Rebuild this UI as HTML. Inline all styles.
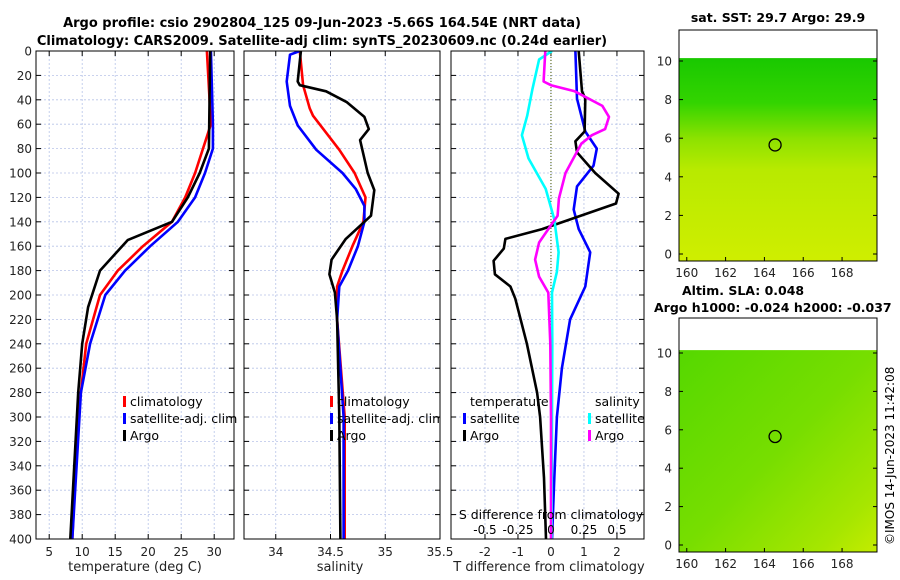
<!DOCTYPE html>
<html><head><meta charset="utf-8">
<style>
html,body{margin:0;padding:0;background:#fff;}
svg{display:block;font-family:"DejaVu Sans","Liberation Sans",sans-serif;}
</style></head>
<body>
<svg id="fig" width="900" height="580" viewBox="0 0 900 580" xmlns="http://www.w3.org/2000/svg">
<defs>
<clipPath id="c1"><rect x="36" y="51" width="198" height="488"/></clipPath>
<clipPath id="c2"><rect x="244" y="51" width="196" height="488"/></clipPath>
<clipPath id="c3"><rect x="451" y="51" width="193" height="488"/></clipPath>
<linearGradient id="sstg" x1="0" y1="0" x2="0" y2="1">
<stop offset="0" stop-color="#19c800"/><stop offset="0.22" stop-color="#33d400"/><stop offset="0.4" stop-color="#8ee200"/><stop offset="0.55" stop-color="#b8ea00"/><stop offset="1" stop-color="#cfee00"/></linearGradient>
<linearGradient id="slag" x1="0" y1="0" x2="1" y2="1">
<stop offset="0" stop-color="#55d800"/><stop offset="0.5" stop-color="#77de00"/><stop offset="0.85" stop-color="#a6e600"/><stop offset="1" stop-color="#c4ec00"/></linearGradient>
</defs>
<text x="322" y="27" text-anchor="middle" font-size="13" font-weight="bold">Argo profile: csio 2902804_125 09-Jun-2023 -5.66S 164.54E (NRT data)</text>
<text x="322" y="45" text-anchor="middle" font-size="13" font-weight="bold">Climatology: CARS2009. Satellite-adj clim: synTS_20230609.nc (0.24d earlier)</text>
<g id="p1"></g>
<g id="p2"></g>
<g id="p3"></g>
<g id="m1"></g>
<g id="m2"></g>
<text transform="translate(894,545) rotate(-90)" font-size="12">©IMOS 14-Jun-2023 11:42:08</text>
</svg>
<script>
// ---- data ----
const depthTicks=[0,20,40,60,80,100,120,140,160,180,200,220,240,260,280,300,320,340,360,380,400];
const tTicks=[5,10,15,20,25,30];
const sTicks=[34,34.5,35,35.5];
const dTTicks=[-2,-1,0,1,2];
const dSTickLabels=["-0.5","-0.25","0","0.25","0.5"];
const dSTicks=[-0.5,-0.25,0,0.25,0.5];
const tClimDepth=[0,60,100,120,140,160,180,200,240,300,400];
const tClimVal=[28.9,29.5,27.1,25.6,23.6,19.2,15.4,12.7,10.6,9.4,8.5];
const tSatDepth=[0,60,80,100,120,140,160,180,200,240,280,400];
const tSatVal=[29.5,29.8,29.8,28.6,27.1,24.5,20.3,16.5,13.5,11.2,9.8,8.5];
const tArgoDepth=[0,80,100,120,140,155,180,210,240,280,400];
const tArgoVal=[29.4,29.2,27.8,26.0,23.6,16.9,12.7,10.9,10.0,9.4,8.2];
const sClimDepth=[0,28,47,53,81,100,120,140,160,180,193,220,300,400];
const sClimVal=[34.22,34.25,34.31,34.34,34.58,34.72,34.82,34.8,34.7,34.61,34.56,34.56,34.63,34.63];
const sSatDepth=[0,3,25,45,61,81,100,113,127,140,160,180,193,220,300,400];
const sSatVal=[34.22,34.13,34.1,34.13,34.2,34.37,34.61,34.73,34.81,34.81,34.75,34.66,34.58,34.56,34.62,34.62];
const sArgoDepth=[0,25,28,33,42,54,64,73,100,114,135,140,154,171,183,198,220,300,400];
const sArgoVal=[34.23,34.2,34.22,34.46,34.65,34.81,34.85,34.77,34.84,34.9,34.87,34.81,34.64,34.51,34.49,34.54,34.56,34.58,34.59];
const dTSatDepth=[0,39,66,80,94,111,130,146,165,193,220,260,300,350,400];
const dTSatVal=[0.74,0.79,1.04,1.39,1.29,0.79,0.69,0.84,1.19,1.04,0.58,0.33,0.18,0.1,0.03];
const dTArgoDepth=[0,33,39,66,74,83,100,117,125,146,154,162,172,183,193,203,240,280,300,350,400];
const dTArgoVal=[0.84,0.94,1.04,1.02,0.74,0.79,1.34,2.05,1.97,-0.27,-1.38,-1.43,-1.74,-1.7,-1.23,-1.08,-0.73,-0.42,-0.33,-0.21,-0.15];
const dSSatDepth=[0,7,31,53,69,88,113,138,165,181,198,240,300,400];
const dSSatVal=[0.008,-0.09,-0.14,-0.18,-0.22,-0.17,-0.04,0.025,0.058,0.045,0.008,0.01,0.008,0.005];
const dSArgoDepth=[0,25,28,33,45,54,64,69,76,100,121,135,146,157,171,185,198,240,300,400];
const dSArgoVal=[-0.043,-0.056,0,0.18,0.39,0.44,0.41,0.31,0.23,0.11,0.06,0.05,-0.02,-0.09,-0.12,-0.09,-0.02,-0.005,0,0];
const mapXTicks=[160,162,164,166,168];
const mapYTicks=[0,2,4,6,8,10];
const argoLon=[164.55];
const argoLat=[5.65];
// ---- helpers ----
const NS="http://www.w3.org/2000/svg";
function mk(parent,tag,attrs,text){const e=document.createElementNS(NS,tag);for(const k in attrs)e.setAttribute(k,attrs[k]);if(text!==undefined)e.textContent=text;parent.appendChild(e);return e;}
const Y=d=>51+d*1.22;
function panel(g,x0,x1,xmin,xmax,xt,xtl,clip,showY){
  const X=v=>x0+(v-xmin)/(xmax-xmin)*(x1-x0);
  for(const d of depthTicks){const l=mk(g,'line',{x1:x0,x2:x1,y1:Y(d),y2:Y(d),stroke:'#b8c4e8','stroke-width':0.8,'stroke-dasharray':'2,2'});
    
    
    mk(g,'line',{x1:x0,x2:x0+5,y1:Y(d),y2:Y(d),stroke:'#000'});mk(g,'line',{x1:x1-5,x2:x1,y1:Y(d),y2:Y(d),stroke:'#000'});
    if(showY){const t=mk(g,'text',{x:x0-4,y:Y(d)+4.5,'text-anchor':'end','font-size':12,fill:'#222'},String(d));
      
      }}
  xt.forEach((v,i)=>{const l=mk(g,'line',{x1:X(v),x2:X(v),y1:51,y2:539,stroke:'#b8c4e8','stroke-width':0.8,'stroke-dasharray':'2,2'});
    
    
    mk(g,'line',{x1:X(v),x2:X(v),y1:539,y2:534,stroke:'#000'});mk(g,'line',{x1:X(v),x2:X(v),y1:51,y2:56,stroke:'#000'});
    if(xtl){const t=mk(g,'text',{x:X(v),y:556,'text-anchor':'middle','font-size':12,fill:'#222'},xtl[i]);
      
      }});
  return X;
}
function series(g,X,ds,vs,color,clip,name){
  const pts=ds.map((d,i)=>X(vs[i]).toFixed(1)+','+Y(d).toFixed(1)).join(' ');
  const p=mk(g,'polyline',{points:pts,fill:'none',stroke:color,'stroke-width':2.6,'stroke-linejoin':'round','clip-path':'url(#'+clip+')'});
  
  
}
function frame(g,x0,x1){const r=mk(g,'rect',{x:x0,y:51,width:x1-x0,height:488,fill:'none',stroke:'#000','stroke-width':1});
  
  }
function legendItem(g,x,y,color,label){
  mk(g,'rect',{x:x,y:y-10,width:3,height:11,fill:color});
  const t=mk(g,'text',{x:x+7,y:y,'font-size':12.5,fill:'#000'},label);
  
  
}
// ---- panel 1 ----
const g1=document.getElementById('p1');
const X1=panel(g1,36,234,3,33,tTicks,tTicks.map(String),'c1',true);
series(g1,X1,tClimDepth,tClimVal,'#ff0000','c1','temp-climatology-line');
series(g1,X1,tSatDepth,tSatVal,'#0000ff','c1','temp-satellite-line');
series(g1,X1,tArgoDepth,tArgoVal,'#000','c1','temp-argo-line');
frame(g1,36,234);
legendItem(g1,123,406,'#ff0000','climatology');legendItem(g1,123,423,'#0000ff','satellite-adj. clim');legendItem(g1,123,440,'#000','Argo');
mk(g1,'text',{x:135,y:571,'text-anchor':'middle','font-size':13,fill:'#222'},'temperature (deg C)');
// ---- panel 2 ----
const g2=document.getElementById('p2');
const X2=panel(g2,244,440,33.71,35.5,sTicks,sTicks.map(String),'c2',false);
series(g2,X2,sClimDepth,sClimVal,'#ff0000','c2','sal-climatology-line');
series(g2,X2,sSatDepth,sSatVal,'#0000ff','c2','sal-satellite-line');
series(g2,X2,sArgoDepth,sArgoVal,'#000','c2','sal-argo-line');
frame(g2,244,440);
const lg2=mk(g2,'g',{'clip-path':'url(#c2)'});
legendItem(lg2,330,406,'#ff0000','climatology');legendItem(lg2,330,423,'#0000ff','satellite-adj. clim');legendItem(lg2,330,440,'#000','Argo');
mk(g2,'text',{x:340,y:571,'text-anchor':'middle','font-size':13,fill:'#222'},'salinity');
// ---- panel 3 ----
const g3=document.getElementById('p3');
const X3=panel(g3,451,644,-3.03,2.82,dTTicks,dTTicks.map(String),'c3',false);
mk(g3,'line',{x1:X3(0),x2:X3(0),y1:51,y2:539,stroke:'#445500','stroke-width':1,'stroke-dasharray':'1,2'});
const XS=v=>X3(v*4);
series(g3,X3,dTSatDepth,dTSatVal,'#0000ff','c3','dT-satellite-line');
series(g3,X3,dTArgoDepth,dTArgoVal,'#000','c3','dT-argo-line');
series(g3,XS,dSSatDepth,dSSatVal,'#00ffff','c3','dS-satellite-line');
series(g3,XS,dSArgoDepth,dSArgoVal,'#ff00ff','c3','dS-argo-line');
frame(g3,451,644);
mk(g3,'text',{x:470,y:406,'font-size':12.5},'temperature');
mk(g3,'text',{x:595,y:406,'font-size':12.5},'salinity');
legendItem(g3,463,423,'#0000ff','satellite');legendItem(g3,463,440,'#000','Argo');
legendItem(g3,588,423,'#00ffff','satellite');legendItem(g3,588,440,'#ff00ff','Argo');
mk(g3,'text',{x:551,y:519,'text-anchor':'middle','font-size':12.5},'S difference from climatology');
dSTicks.forEach((v,i)=>{const t=mk(g3,'text',{x:XS(v),y:534,'text-anchor':'middle','font-size':12},dSTickLabels[i]);
  
  });
mk(g3,'text',{x:549,y:571,'text-anchor':'middle','font-size':13,fill:'#222'},'T difference from climatology');
// ---- maps ----
function map(g,top,bot,y0px,y10px,dataTop,fill){
  const MX=v=>679+(v-159.6)/(169.8-159.6)*(877-679);
  const MY=v=>y0px+(v-0)/(10-0)*(y10px-y0px);
  mk(g,'rect',{x:679,y:MY(10.15),width:198,height:bot-MY(10.15),fill:'url(#'+fill+')'});
  const f=mk(g,'rect',{x:679,y:top,width:198,height:bot-top,fill:'none',stroke:'#000'});
  
  
  mapXTicks.forEach(v=>{mk(g,'line',{x1:MX(v),x2:MX(v),y1:bot,y2:bot-4,stroke:'#000'});
    const t=mk(g,'text',{x:MX(v),y:bot+16,'text-anchor':'middle','font-size':12,fill:'#222'},String(v));
    
    });
  mapYTicks.forEach(v=>{mk(g,'line',{x1:679,x2:683,y1:MY(v),y2:MY(v),stroke:'#000'});mk(g,'line',{x1:873,x2:877,y1:MY(v),y2:MY(v),stroke:'#000'});
    const t=mk(g,'text',{x:672,y:MY(v)+4.5,'text-anchor':'end','font-size':12,fill:'#222'},String(v));
    
    });
  const c=mk(g,'circle',{cx:MX(argoLon[0]),cy:MY(argoLat[0]),r:6,fill:'none',stroke:'#000','stroke-width':1.3});
  
  
}
const m1=document.getElementById('m1');
map(m1,30,261,254,61,59,'sstg');
mk(m1,'text',{x:778,y:22,'text-anchor':'middle','font-size':12.5,'font-weight':'bold'},'sat. SST: 29.7 Argo: 29.9');
const m2=document.getElementById('m2');
map(m2,318,552,545,353,348,'slag');
mk(m2,'text',{x:682,y:295,'font-size':12.5,'font-weight':'bold'},'Altim. SLA: 0.048');
mk(m2,'text',{x:654,y:312,'font-size':12.5,'font-weight':'bold'},'Argo h1000: -0.024 h2000: -0.037');
</script>
</body></html>
